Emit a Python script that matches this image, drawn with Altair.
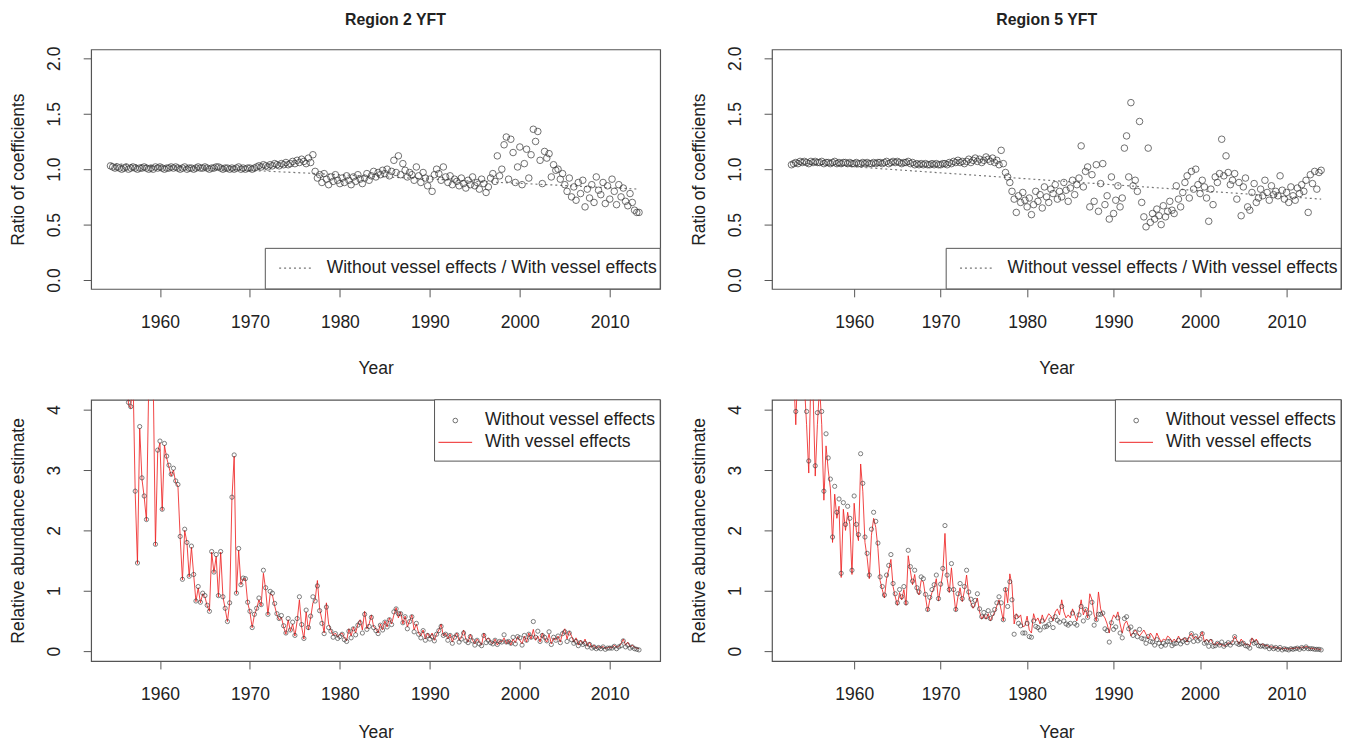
import altair as alt
import pandas as pd

FONT = "Liberation Sans, Arial, sans-serif"

# ---------------- Region 2 ----------------
R2_START = 1954.5  # first quarter shown
# ratio of coefficients (without / with vessel effects), quarterly
R2_RATIO = [
    1.03, 1.02,
    1.01, 1.02, 1.01, 1.00,  1.01, 1.02, 1.00, 1.01,  1.02, 1.01, 1.00, 1.01,
    1.01, 1.02, 1.01, 1.00,  1.01, 1.00, 1.02, 1.01,  1.02, 1.01, 1.00, 1.01,
    1.01, 1.02, 1.01, 1.02,  1.01, 1.00, 1.01, 1.02,  1.00, 1.01, 1.01, 1.00,
    1.01, 1.02, 1.01, 1.01,  1.02, 1.01, 1.00, 1.01,  1.01, 1.02, 1.02, 1.01,
    1.00, 1.01, 1.01, 1.00,  1.01, 1.00, 1.01, 1.02,  1.00, 1.01, 1.00, 1.01,
    1.01, 1.00, 1.01, 1.02,  1.03, 1.02, 1.04, 1.03,  1.02, 1.04, 1.03, 1.05,
    1.04, 1.03, 1.05, 1.04,  1.06, 1.04, 1.05, 1.07,  1.05, 1.08, 1.06, 1.09,
    1.07, 1.05, 1.10, 1.06,  1.13, 0.98, 0.92, 0.95,  0.88, 0.96, 0.91, 0.86,
    0.93, 0.89, 0.95, 0.90,  0.87, 0.92, 0.88, 0.94,  0.90, 0.86, 0.93, 0.89,
    0.95, 0.91, 0.87, 0.92,  0.96, 0.90, 0.94, 0.98,  0.93, 0.97, 0.95, 0.99,
    0.96, 1.00, 0.94, 0.98,  1.08, 0.97, 1.12, 0.95,  1.05, 0.99, 0.93, 0.97,
    0.95, 0.90, 1.02, 0.94,  0.88, 0.97, 0.92, 0.85,  0.91, 0.80, 0.95, 1.00,
    0.96, 0.90, 1.02, 0.93,  0.88, 0.94, 0.86, 0.91,  0.89, 0.85, 0.92, 0.87,
    0.83, 0.90, 0.86, 0.93,  0.85, 0.88, 0.82, 0.91,  0.87, 0.79, 0.84, 0.92,
    0.96, 0.89, 1.12, 0.94,  1.00, 1.22, 1.29, 0.91,  1.27, 1.15, 0.88, 1.02,
    1.20, 0.86, 1.05, 1.18,  0.92, 1.13, 1.36, 1.25,  1.34, 1.08, 0.87, 1.16,
    1.10, 1.14, 0.93, 1.04,  0.99, 1.00, 0.91, 0.96,  0.86, 0.80, 0.92, 0.75,
    0.84, 0.72, 0.88, 0.78,  0.90, 0.66, 0.82, 0.74,  0.86, 0.70, 0.93, 0.81,
    0.77, 0.88, 0.69, 0.85,  0.73, 0.91, 0.80, 0.68,  0.86, 0.75, 0.83, 0.71,
    0.67, 0.78, 0.70, 0.63,
    0.61, 0.61,
]
R2_TREND_YEARS = [1954.5, 2013.25]
R2_TREND = [1.05, 0.82]

# relative abundance estimate with vessel effects (red line), quarterly
R2_WITH = [
    5.9, 6.4,
    5.6, 6.2, 5.1, 5.7,  4.9, 5.4, 4.08, 4.02,  4.6, 2.62, 1.45, 3.69,
    2.85, 2.55, 2.16, 4.4,  4.4, 4.5, 1.75, 3.3,  3.45, 2.33, 3.41, 3.2,
    3.05, 2.9, 3.0, 2.79,  2.73, 1.88, 1.18, 2.0,  1.8, 1.23, 1.72, 1.26,
    0.82, 1.05, 0.8, 0.95,  0.9, 0.75, 0.66, 1.64,  1.3, 1.57, 0.9, 1.64,
    0.9, 0.7, 0.49, 0.8,  2.52, 3.23, 0.95, 1.67,  1.1, 1.2, 1.2, 0.8,
    0.65, 0.39, 0.6, 0.7,  0.85, 0.75, 1.29, 1.02,  0.6, 0.95, 0.93, 0.75,
    0.6, 0.52, 0.56, 0.4,  0.28, 0.52, 0.33, 0.45,  0.25, 0.5, 0.85, 0.4,
    0.2, 0.65, 0.35, 0.55,  0.8, 0.85, 1.17, 0.7,  0.52, 0.3, 0.8, 0.45,
    0.35, 0.26, 0.3, 0.23,  0.28, 0.3, 0.22, 0.17,  0.37, 0.25, 0.4, 0.3,
    0.45, 0.52, 0.35, 0.66,  0.37, 0.45, 0.6, 0.4,  0.37, 0.3, 0.45, 0.35,
    0.5, 0.4, 0.55, 0.45,  0.6, 0.72, 0.55, 0.65,  0.45, 0.58, 0.4, 0.5,
    0.6, 0.35, 0.45, 0.3,  0.25, 0.35, 0.2, 0.3,  0.22, 0.3, 0.18, 0.28,
    0.35, 0.45, 0.25, 0.3,  0.2, 0.28, 0.15, 0.25,  0.3, 0.18, 0.22, 0.35,
    0.2, 0.15, 0.28, 0.18,  0.12, 0.2, 0.15, 0.1,  0.3, 0.18, 0.22, 0.15,
    0.12, 0.2, 0.1, 0.17,  0.15, 0.22, 0.12, 0.18,  0.1, 0.2, 0.14, 0.24,
    0.18, 0.12, 0.25, 0.15,  0.3, 0.2, 0.36, 0.18,  0.25, 0.15, 0.3, 0.2,
    0.15, 0.28, 0.12, 0.22,  0.18, 0.25, 0.15, 0.3,  0.37, 0.2, 0.33, 0.25,
    0.15, 0.22, 0.1, 0.18,  0.12, 0.2, 0.08, 0.15,  0.06, 0.1, 0.04, 0.08,
    0.05, 0.08, 0.04, 0.06,  0.07, 0.05, 0.1, 0.06,  0.08, 0.12, 0.2, 0.1,
    0.15, 0.07, 0.1, 0.06,
    0.05, 0.04,
]
# relative abundance estimate without vessel effects (open circles), quarterly
R2_WITHOUT = [
    5.9, 6.5,
    5.6, 6.3, 5.1, 5.7,  4.9, 5.5, 4.12, 4.05,  4.6, 2.65, 1.46, 3.72,
    2.87, 2.57, 2.18, 4.4,  4.4, 4.5, 1.77, 3.33,  3.48, 2.35, 3.44, 3.23,
    3.08, 2.93, 3.03, 2.82,  2.76, 1.9, 1.19, 2.02,  1.8, 1.24, 1.74, 1.27,
    0.83, 1.07, 0.81, 0.96,  0.92, 0.76, 0.66, 1.65,  1.31, 1.6, 0.92, 1.65,
    0.9, 0.71, 0.49, 0.8,  2.55, 3.25, 0.96, 1.7,  1.1, 1.21, 1.2, 0.81,
    0.66, 0.39, 0.61, 0.71,  0.88, 0.77, 1.34, 1.05,  0.61, 0.99, 0.96, 0.79,
    0.62, 0.54, 0.59, 0.42,  0.3, 0.54, 0.35, 0.48,  0.26, 0.54, 0.9, 0.44,
    0.21, 0.68, 0.39, 0.58,  0.9, 0.83, 1.08, 0.67,  0.46, 0.29, 0.73, 0.39,
    0.33, 0.23, 0.29, 0.21,  0.24, 0.28, 0.19, 0.16,  0.33, 0.22, 0.37, 0.27,
    0.43, 0.47, 0.3, 0.61,  0.36, 0.41, 0.56, 0.39,  0.34, 0.29, 0.43, 0.35,
    0.48, 0.4, 0.52, 0.44,  0.65, 0.7, 0.62, 0.62,  0.47, 0.57, 0.37, 0.49,
    0.57, 0.32, 0.46, 0.28,  0.22, 0.34, 0.18, 0.26,  0.2, 0.24, 0.17, 0.28,
    0.34, 0.41, 0.26, 0.28,  0.18, 0.26, 0.13, 0.23,  0.27, 0.15, 0.2, 0.3,
    0.17, 0.14, 0.24, 0.17,  0.1, 0.18, 0.12, 0.09,  0.26, 0.14, 0.18, 0.14,
    0.12, 0.18, 0.11, 0.16,  0.15, 0.27, 0.15, 0.16,  0.13, 0.23, 0.12, 0.24,
    0.22, 0.1, 0.26, 0.18,  0.28, 0.23, 0.49, 0.23,  0.33, 0.16, 0.26, 0.23,
    0.17, 0.32, 0.11, 0.23,  0.18, 0.25, 0.14, 0.29,  0.32, 0.16, 0.3, 0.19,
    0.13, 0.16, 0.09, 0.14,  0.11, 0.13, 0.07, 0.11,  0.05, 0.07, 0.04, 0.06,
    0.04, 0.07, 0.03, 0.05,  0.05, 0.05, 0.08, 0.04,  0.07, 0.09, 0.17, 0.07,
    0.1, 0.05, 0.07, 0.04,
    0.03, 0.02,
]

# ---------------- Region 5 ----------------
R5_START = 1952.75
R5_RATIO = [
    1.04,
    1.05, 1.06, 1.05, 1.07,  1.06, 1.07, 1.06, 1.05,  1.07, 1.06, 1.07, 1.06,
    1.06, 1.07, 1.05, 1.06,  1.06, 1.05, 1.06, 1.07,  1.05, 1.06, 1.05, 1.06,
    1.06, 1.05, 1.06, 1.05,  1.05, 1.06, 1.05, 1.05,  1.06, 1.05, 1.06, 1.05,
    1.05, 1.06, 1.05, 1.06,  1.06, 1.05, 1.06, 1.07,  1.05, 1.06, 1.07, 1.06,
    1.07, 1.06, 1.05, 1.06,  1.06, 1.07, 1.05, 1.06,  1.04, 1.05, 1.04, 1.05,
    1.04, 1.05, 1.04, 1.04,  1.05, 1.04, 1.05, 1.04,  1.04, 1.05, 1.05, 1.04,
    1.06, 1.05, 1.07, 1.06,  1.08, 1.06, 1.07, 1.05,  1.07, 1.09, 1.06, 1.08,
    1.10, 1.07, 1.09, 1.06,  1.08, 1.11, 1.09, 1.07,  1.10, 1.06, 1.08, 1.04,
    1.17, 1.05, 0.97, 0.93,  0.88, 0.80, 0.73, 0.61,  0.76, 0.70, 0.79, 0.72,
    0.66, 0.74, 0.59, 0.68,  0.80, 0.71, 0.77, 0.65,  0.84, 0.75, 0.70, 0.82,
    0.78, 0.86, 0.73, 0.80,  0.75, 0.88, 0.81, 0.71,  0.83, 0.90, 0.77, 0.86,
    0.92, 1.21, 0.84, 0.98,  1.02, 0.66, 0.95, 0.71,  1.04, 0.62, 0.87, 1.05,
    0.68, 0.76, 0.55, 0.93,  0.60, 0.72, 0.85, 0.66,  0.74, 1.19, 1.30, 0.93,
    1.60, 0.85, 0.90, 0.80,  1.43, 0.70, 0.57, 0.48,  1.19, 0.52, 0.60, 0.55,
    0.64, 0.58, 0.50, 0.67,  0.57, 0.62, 0.71, 0.63,  0.60, 0.85, 0.73, 0.66,
    0.79, 0.88, 0.94, 0.74,  0.98, 0.82, 1.00, 0.86,  0.78, 0.90, 0.84, 0.74,
    0.53, 0.82, 0.68, 0.93,  0.88, 0.96, 1.27, 0.94,  1.12, 0.97, 0.86, 0.90,
    0.96, 0.73, 0.88, 0.58,  0.84, 0.92, 0.66, 0.63,  0.79, 0.87, 0.70, 0.74,
    0.82, 0.76, 0.90, 0.79,  0.72, 0.85, 0.77, 0.80,  0.76, 0.94, 0.81, 0.73,
    0.79, 0.70, 0.84, 0.76,  0.72, 0.83, 0.78, 0.86,  0.80, 0.90, 0.61, 0.95,
    0.87, 0.98, 0.82, 0.97,
    0.99,
]
R5_TREND_YEARS = [1952.75, 2014.0]
R5_TREND = [1.06, 0.73]

R5_WITH = [
    5.2,
    4.6, 3.75, 4.8, 4.5,  5.0, 4.4, 3.75, 2.95,  4.6, 4.3, 2.9, 3.75,
    4.4, 3.75, 2.5, 3.4,  3.0, 2.7, 1.8, 2.6,  2.2, 2.4, 1.22, 2.35,
    2.0, 2.3, 2.1, 1.27,  2.45, 2.0, 1.83, 3.1,  2.65, 1.8, 1.55, 1.2,
    1.92, 2.2, 2.05, 1.7,  1.17, 1.02, 0.88, 1.2,  1.35, 1.52, 1.07, 0.9,
    0.76, 0.97, 0.85, 1.02,  0.76, 1.58, 1.33, 1.1,  1.27, 1.0, 0.93, 1.17,
    1.15, 0.9, 0.66, 0.85,  0.97, 1.05, 1.2, 0.83,  1.06, 1.3, 1.95, 1.2,
    0.97, 1.38, 0.97, 0.66,  0.9, 1.05, 0.82, 1.0,  1.26, 0.92, 0.8, 0.71,
    0.78, 0.88, 0.65, 0.53,  0.6, 0.53, 0.62, 0.5,  0.58, 0.64, 0.75, 0.85,
    0.68, 0.5, 1.05, 0.8,  1.28, 1.1, 0.45, 0.62,  0.55, 0.6, 0.4, 0.42,
    0.58, 0.35, 0.3, 0.62,  0.5, 0.55, 0.45, 0.6,  0.48, 0.55, 0.62, 0.58,
    0.5, 0.65, 0.7, 0.6,  0.85, 0.65, 0.55, 0.6,  0.55, 0.7, 0.6, 0.5,
    0.65, 0.85, 0.6, 0.7,  0.55, 0.95, 0.85, 0.6,  0.5, 0.98, 0.7, 0.6,
    0.55, 0.45, 0.3, 0.5,  0.6, 0.55, 0.65, 0.45,  0.3, 0.45, 0.5, 0.4,
    0.25, 0.3, 0.35, 0.3,  0.25, 0.3, 0.35, 0.28,  0.2, 0.3, 0.25, 0.18,
    0.3, 0.22, 0.15, 0.2,  0.18, 0.25, 0.22, 0.15,  0.2, 0.15, 0.25, 0.18,
    0.2, 0.22, 0.15, 0.25,  0.3, 0.2, 0.25, 0.2,  0.25, 0.32, 0.15, 0.2,
    0.15, 0.2, 0.12, 0.1,  0.15, 0.1, 0.12, 0.08,  0.1, 0.14, 0.12, 0.15,
    0.25, 0.18, 0.12, 0.2,  0.15, 0.1, 0.12, 0.08,  0.22, 0.15, 0.2, 0.12,
    0.1, 0.12, 0.08, 0.1,  0.06, 0.08, 0.05, 0.07,  0.04, 0.06, 0.03, 0.05,
    0.04, 0.03, 0.05, 0.04,  0.05, 0.06, 0.04, 0.07,  0.05, 0.08, 0.06, 0.04,
    0.05, 0.03, 0.04, 0.03,
    0.02,
]
R5_WITHOUT = [
    5.4,
    4.8, 3.97, 5.1, 4.8,  5.3, 4.7, 3.97, 3.15,  4.9, 4.6, 3.07, 3.95,
    4.7, 3.97, 2.65, 3.6,  3.2, 2.85, 1.89, 2.73,  2.3, 2.52, 1.29, 2.46,
    2.1, 2.4, 2.2, 1.34,  2.57, 2.1, 1.93, 3.27,  2.78, 1.89, 1.62, 1.26,
    2.02, 2.3, 2.15, 1.79,  1.23, 1.07, 0.93, 1.26,  1.42, 1.6, 1.12, 0.95,
    0.8, 1.02, 0.9, 1.07,  0.8, 1.67, 1.4, 1.16,  1.34, 1.05, 0.98, 1.23,
    1.2, 0.94, 0.69, 0.89,  1.02, 1.1, 1.26, 0.87,  1.11, 1.37, 2.08, 1.26,
    1.02, 1.45, 1.02, 0.69,  0.95, 1.12, 0.87, 1.07,  1.34, 0.98, 0.86, 0.76,
    0.84, 0.95, 0.7, 0.57,  0.64, 0.57, 0.67, 0.54,  0.62, 0.69, 0.8, 0.9,
    0.8, 0.52, 1.02, 0.74,  1.15, 0.85, 0.28, 0.57,  0.46, 0.42, 0.3, 0.3,
    0.46, 0.24, 0.23, 0.5,  0.41, 0.39, 0.35, 0.5,  0.4, 0.41, 0.44, 0.52,
    0.39, 0.57, 0.51, 0.48,  0.74, 0.5, 0.45, 0.43,  0.46, 0.63, 0.46, 0.43,
    0.6, 0.74, 0.5, 0.69,  0.56, 0.63, 0.81, 0.43,  0.52, 0.61, 0.61, 0.63,
    0.37, 0.34, 0.15, 0.47,  0.36, 0.4, 0.55, 0.3,  0.22, 0.54, 0.57, 0.37,
    0.4, 0.26, 0.32, 0.24,  0.36, 0.21, 0.2, 0.13,  0.24, 0.16, 0.15, 0.1,
    0.19, 0.13, 0.08, 0.13,  0.1, 0.16, 0.16, 0.09,  0.12, 0.13, 0.18, 0.12,
    0.16, 0.19, 0.14, 0.19,  0.29, 0.16, 0.25, 0.17,  0.2, 0.29, 0.13, 0.15,
    0.08, 0.16, 0.08, 0.09,  0.13, 0.1, 0.15, 0.08,  0.11, 0.14, 0.1, 0.14,
    0.24, 0.13, 0.11, 0.12,  0.13, 0.09, 0.08, 0.05,  0.17, 0.13, 0.14, 0.09,
    0.08, 0.09, 0.07, 0.08,  0.04, 0.07, 0.04, 0.06,  0.03, 0.06, 0.02, 0.04,
    0.03, 0.02, 0.04, 0.03,  0.04, 0.05, 0.03, 0.06,  0.04, 0.07, 0.04, 0.04,
    0.04, 0.03, 0.03, 0.03,
    0.02,
]

TITLES = ["Region 2 YFT", "Region 5 YFT"]
TITLE_DX = [20, -10]
YEAR_TICKS = [1960, 1970, 1980, 1990, 2000, 2010]
RATIO_TICKS = [0.0, 0.5, 1.0, 1.5, 2.0]
ABUND_TICKS = [0, 1, 2, 3, 4]
X_DOMAINS = [[1952.35, 2015.6], [1950.5, 2016.3]]

W = 575
H_TOP = 242
H_BOT = 264
FRAME = "#555555"
TXT = "#222222"
FS = 17.7


def quarters(start, n):
    return [start + 0.25 * i for i in range(n)]


def x_enc(domain, title_pad):
    return alt.X(
        "Year:Q",
        scale=alt.Scale(domain=domain, nice=False, zero=False),
        axis=alt.Axis(values=YEAR_TICKS, format="d", tickSize=8, labelPadding=17,
                      titlePadding=title_pad, labelFlush=False),
        title="Year",
    )


def y_axis(values, fmt):
    return alt.Axis(values=values, format=fmt, tickSize=8, labelAngle=270,
                    labelPadding=20, titlePadding=18)


def anno(n=1):
    return alt.Chart(pd.DataFrame({"k": list(range(n))}))


def ratio_panel(title, dx, years, ratio, tyears, trend, domain):
    df = pd.DataFrame({"Year": years, "Ratio": ratio})
    tdf = pd.DataFrame({"Year": tyears, "Ratio": trend})
    y = alt.Y("Ratio:Q", scale=alt.Scale(domain=[-0.08, 2.08], nice=False, zero=False),
              axis=y_axis(RATIO_TICKS, ".1f"), title="Ratio of coefficients")
    pts = alt.Chart(df).mark_point(shape="circle", filled=False, stroke="#333333",
                                   strokeWidth=1, size=44, clip=True).encode(
        x=x_enc(domain, 29), y=y)
    line = alt.Chart(tdf).mark_line(color="#777777", strokeDash=[2, 3], strokeWidth=1.2,
                                    clip=True).encode(x="Year:Q", y="Ratio:Q")
    box = anno().mark_rect(fill="white", stroke=FRAME, strokeWidth=1).encode(
        x=alt.value(176), x2=alt.value(W), y=alt.value(201), y2=alt.value(H_TOP))
    lseg = anno().mark_rule(color="#777777", strokeDash=[2, 3], strokeWidth=1.2).encode(
        x=alt.value(190), x2=alt.value(222), y=alt.value(221))
    ltxt = anno().mark_text(align="left", baseline="middle", fontSize=FS, font=FONT,
                            color=TXT).encode(
        x=alt.value(238), y=alt.value(221),
        text=alt.value("Without vessel effects / With vessel effects"))
    return alt.layer(line, pts, box, lseg, ltxt).properties(
        width=W, height=H_TOP,
        title=alt.TitleParams(title, fontSize=16, fontWeight="bold", font=FONT,
                              color=TXT, offset=18, anchor="middle", dx=dx))


def abund_panel(years, with_v, without_v, domain):
    df = pd.DataFrame({"Year": years, "With": with_v, "Without": without_v})
    yscale = alt.Scale(domain=[-0.164, 4.164], nice=False, zero=False)
    line = alt.Chart(df).mark_line(color="#ee2222", strokeWidth=1, opacity=0.85,
                                   clip=True).encode(
        x=x_enc(domain, 21),
        y=alt.Y("With:Q", scale=yscale, axis=y_axis(ABUND_TICKS, "d"),
                title="Relative abundance estimate"))
    pts = alt.Chart(df).mark_point(shape="circle", filled=False, stroke="#333333",
                                   strokeWidth=0.9, size=18, clip=True).encode(
        x="Year:Q", y=alt.Y("Without:Q", scale=yscale))
    box = anno().mark_rect(fill="white", stroke=FRAME, strokeWidth=1).encode(
        x=alt.value(347), x2=alt.value(W), y=alt.value(0), y2=alt.value(62))
    lpt = anno().mark_point(shape="circle", filled=False, stroke="#333333", strokeWidth=1,
                            size=22).encode(x=alt.value(368), y=alt.value(21))
    lrule = anno().mark_rule(color="#ee2222", strokeWidth=1).encode(
        x=alt.value(351), x2=alt.value(385), y=alt.value(43))
    t1 = anno().mark_text(align="left", baseline="middle", fontSize=FS, font=FONT,
                          color=TXT).encode(x=alt.value(398), y=alt.value(21),
                                            text=alt.value("Without vessel effects"))
    t2 = anno().mark_text(align="left", baseline="middle", fontSize=FS, font=FONT,
                          color=TXT).encode(x=alt.value(398), y=alt.value(43),
                                            text=alt.value("With vessel effects"))
    return alt.layer(line, pts, box, lpt, lrule, t1, t2).properties(width=W, height=H_BOT)


r2_years = quarters(R2_START, len(R2_RATIO))
r5_years = quarters(R5_START, len(R5_RATIO))

top = alt.hconcat(
    ratio_panel(TITLES[0], TITLE_DX[0], r2_years, R2_RATIO, R2_TREND_YEARS, R2_TREND,
                X_DOMAINS[0]),
    ratio_panel(TITLES[1], TITLE_DX[1], r5_years, R5_RATIO, R5_TREND_YEARS, R5_TREND,
                X_DOMAINS[1]),
    spacing=28,
)
bottom = alt.hconcat(
    abund_panel(r2_years, R2_WITH, R2_WITHOUT, X_DOMAINS[0]),
    abund_panel(r5_years, R5_WITH, R5_WITHOUT, X_DOMAINS[1]),
    spacing=28,
)

chart = alt.vconcat(top, bottom, spacing=20).properties(
    padding={"left": 1, "top": 0, "right": 2, "bottom": 0},
    background="white",
).configure_view(
    stroke=FRAME, strokeWidth=1.2
).configure_axis(
    grid=False, domain=False, tickColor=FRAME, labelColor=TXT, titleColor=TXT,
    labelFont=FONT, titleFont=FONT, labelFontSize=FS, titleFontSize=FS,
    titleFontWeight="normal",
)

chart.save("out.html", embed_options={"renderer": "svg", "actions": False})
